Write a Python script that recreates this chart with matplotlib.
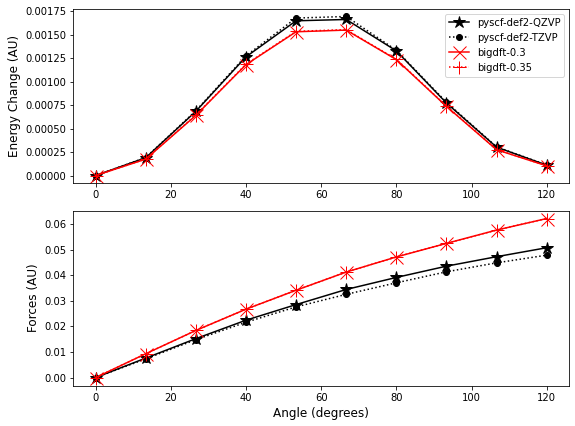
import numpy as np
import matplotlib
matplotlib.use("Agg")
import matplotlib.pyplot as plt

# ── DATA ──────────────────────────────────────────────────────────────────────
angles = [0, 13.33, 26.67, 40, 53.33, 66.67, 80, 93.33, 106.67, 120]

energy_qzvp = [0.0, 0.000189, 0.000683, 0.001263, 0.001647, 0.001661, 0.001327, 0.000772, 0.000302, 0.000110]
energy_tzvp = [0.0, 0.000191, 0.000690, 0.001274, 0.001676, 0.001693, 0.001334, 0.000780, 0.000305, 0.000112]
energy_b03  = [0.0, 0.000174, 0.000640, 0.001180, 0.001530, 0.001548, 0.001234, 0.000736, 0.000274, 0.000103]
energy_b035 = [0.0, 0.000176, 0.000645, 0.001185, 0.001535, 0.001553, 0.001238, 0.000740, 0.000276, 0.000104]

force_qzvp = [0.0, 0.0076, 0.0152, 0.0224, 0.0285, 0.0344, 0.0391, 0.0435, 0.0472, 0.0507]
force_tzvp = [0.0, 0.0073, 0.0148, 0.0216, 0.0276, 0.0325, 0.0370, 0.0413, 0.0448, 0.0478]
force_b03  = [0.0, 0.0093, 0.0184, 0.0267, 0.0341, 0.0412, 0.0471, 0.0524, 0.0576, 0.0621]
force_b035 = [0.0, 0.0093, 0.0184, 0.0267, 0.0341, 0.0412, 0.0471, 0.0524, 0.0576, 0.0621]

labels = ["pyscf-def2-QZVP", "pyscf-def2-TZVP", "bigdft-0.3", "bigdft-0.35"]

# ── FIGURE ────────────────────────────────────────────────────────────────────
fig, axes = plt.subplots(2, 1, figsize=(575 / 72, 426 / 72), dpi=72)
fig.subplots_adjust(left=0.127, right=0.99, top=0.98, bottom=0.095, hspace=0.155)


def draw(ax, q, t, b3, b35):
    ax.plot(angles, q, "k*-", markersize=13, label=labels[0])
    ax.plot(angles, t, "ko:", markersize=6, label=labels[1])
    ax.plot(angles, b3, "rx-", markersize=13, label=labels[2])
    ax.plot(angles, b35, "r+:", markersize=13, label=labels[3])
    ax.set_xticks([0, 20, 40, 60, 80, 100, 120])
    ax.tick_params(labelsize=10)


ax = axes[0]
draw(ax, energy_qzvp, energy_tzvp, energy_b03, energy_b035)
ax.set_ylabel("Energy Change (AU)", fontsize=12)
ax.set_yticks(np.arange(0, 0.00176, 0.00025))
ax.set_yticklabels([f"{v:.5f}" for v in np.arange(0, 0.00176, 0.00025)])
ax.legend(loc="upper right", fontsize=10)

ax = axes[1]
draw(ax, force_qzvp, force_tzvp, force_b03, force_b035)
ax.set_ylabel("Forces (AU)", fontsize=12)
ax.set_xlabel("Angle (degrees)", fontsize=12)
ax.set_yticks(np.arange(0, 0.061, 0.01))
ax.set_yticklabels([f"{v:.2f}" for v in np.arange(0, 0.061, 0.01)])

fig.savefig("out.png", dpi=72)
